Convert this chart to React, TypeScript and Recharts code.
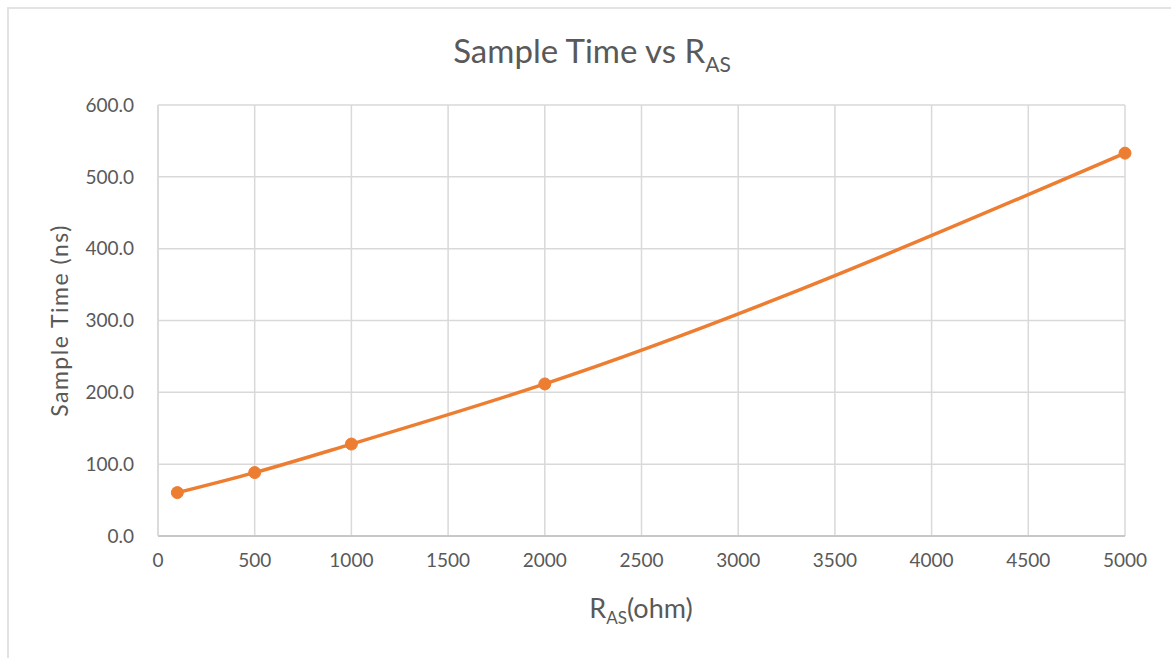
import { CartesianGrid, Label, Line, LineChart, XAxis, YAxis } from "recharts";

const resistance = [100, 500, 1000, 2000, 5000];
const sampleTime = [60.4, 88.3, 128.0, 211.7, 533.0];
const xTicks = [0, 500, 1000, 1500, 2000, 2500, 3000, 3500, 4000, 4500, 5000];
const yTicks = [0, 100, 200, 300, 400, 500, 600];

const data = resistance.map((r, i) => ({ r, t: sampleTime[i] }));

const FONT = "Lato, 'Open Sans', sans-serif";
const TEXT = "#595959";

export default function App() {
  return (
    <div style={{ position: "absolute", left: 0, top: 0, width: 1171, height: 658, background: "#fff", fontFamily: FONT }}>
      <div style={{ position: "absolute", left: 7, top: 7, right: 0, bottom: 0, borderTop: "2px solid #e3e3e3", borderLeft: "2px solid #e3e3e3" }} />
      <LineChart width={1171} height={658} data={data} margin={{ top: 105, right: 46, left: 0, bottom: 92 }}>
        <text x={592} y={63} textAnchor="middle" fill={TEXT} fontSize={33} fontFamily={FONT}>
          Sample Time vs R
          <tspan fontSize={21} dy={9}>AS</tspan>
        </text>
        <CartesianGrid stroke="#d9d9d9" strokeWidth={1.5} />
        <XAxis
          dataKey="r"
          type="number"
          domain={[0, 5000]}
          ticks={xTicks}
          interval={0}
          height={30}
          tickLine={false}
          axisLine={{ stroke: "#bfbfbf", strokeWidth: 1.5 }}
          tick={{ fill: TEXT, fontSize: 19, fontFamily: FONT }}
          tickMargin={12}
        />
        <text x={641} y={618} textAnchor="middle" fill={TEXT} fontSize={27} fontFamily={FONT}>
          R
          <tspan fontSize={17} dy={6}>AS</tspan>
          <tspan dy={-6}>(ohm)</tspan>
        </text>
        <YAxis
          type="number"
          domain={[0, 600]}
          ticks={yTicks}
          interval={0}
          width={158}
          tickLine={false}
          axisLine={{ stroke: "#d9d9d9", strokeWidth: 1.5 }}
          tick={{ fill: TEXT, fontSize: 19, fontFamily: FONT }}
          tickMargin={18}
          tickFormatter={(v: number) => v.toFixed(1)}
        >
          <Label
            value="Sample Time (ns)"
            angle={-90}
            position="insideLeft"
            offset={60}
            style={{ fill: TEXT, fontSize: 23, fontFamily: FONT, textAnchor: "middle", letterSpacing: 1.5 }}
          />
        </YAxis>
        <Line
          type="monotone"
          dataKey="t"
          stroke="#ED7D31"
          strokeWidth={3.5}
          dot={{ r: 6, fill: "#ED7D31", stroke: "#ED7D31", strokeWidth: 1 }}
          isAnimationActive={false}
        />
      </LineChart>
    </div>
  );
}
